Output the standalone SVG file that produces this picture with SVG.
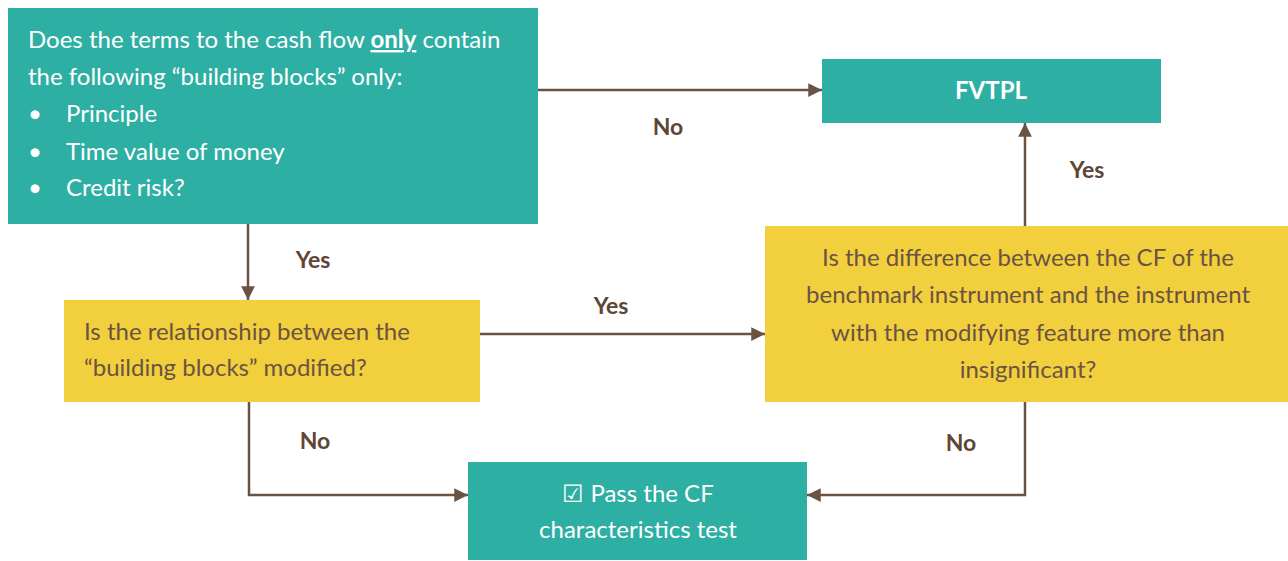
<svg xmlns="http://www.w3.org/2000/svg" width="1288" height="561" viewBox="0 0 1288 561">
<defs>
<style>
.teal{fill:#2eafa4}
.yel{fill:#f2cf3c}
.wt{fill:#ffffff;font-family:Lato,"Open Sans",sans-serif;font-size:24px}
.bt{fill:#6b5344;font-family:Lato,"Open Sans",sans-serif;font-size:24px}
.lbl{fill:#5e4636;font-family:Lato,"Open Sans",sans-serif;font-size:23px;font-weight:bold;text-anchor:middle}
.con{stroke:#6b5344;stroke-width:2.5;fill:none}
</style>
<marker id="ah" viewBox="0 0 10 10" refX="10" refY="5" markerWidth="5.5" markerHeight="5.5" orient="auto" markerUnits="strokeWidth">
<path d="M0,0 L10,5 L0,10 z" fill="#6b5344"/>
</marker>
</defs>
<rect width="1288" height="561" fill="#ffffff"/>
<g id="connectors">
<path class="con" d="M538,90 H822" marker-end="url(#ah)"/>
<path class="con" d="M248,224 V300" marker-end="url(#ah)"/>
<path class="con" d="M480,334 H765" marker-end="url(#ah)"/>
<path class="con" d="M1025,226 V123" marker-end="url(#ah)"/>
<path class="con" d="M249,402 V495 H468" marker-end="url(#ah)"/>
<path class="con" d="M1025,402 V495 H807" marker-end="url(#ah)"/>
<text class="lbl" x="668" y="135">No</text>
<text class="lbl" x="313" y="268">Yes</text>
<text class="lbl" x="611" y="314">Yes</text>
<text class="lbl" x="1087" y="178">Yes</text>
<text class="lbl" x="315" y="449">No</text>
<text class="lbl" x="961" y="451">No</text>
</g>
<g id="q1">
<rect class="teal" x="8" y="8" width="530" height="216"/>
<text class="wt" x="28" y="48">Does the terms to the cash flow <tspan font-weight="bold" text-decoration="underline">only</tspan> contain</text>
<text class="wt" x="28" y="85">the following “building blocks” only:</text>
<text class="wt" x="28" y="122">•</text><text class="wt" x="66" y="122">Principle</text>
<text class="wt" x="28" y="160">•</text><text class="wt" x="66" y="160">Time value of money</text>
<text class="wt" x="28" y="196">•</text><text class="wt" x="66" y="196">Credit risk?</text>
</g>
<g id="fvtpl">
<rect class="teal" x="822" y="59" width="339" height="64"/>
<text class="wt" x="991" y="99" text-anchor="middle" font-weight="bold">FVTPL</text>
</g>
<g id="q2">
<rect class="yel" x="64" y="300" width="416" height="102"/>
<text class="bt" x="84" y="340">Is the relationship between the</text>
<text class="bt" x="84" y="376">“building blocks” modified?</text>
</g>
<g id="q3">
<rect class="yel" x="765" y="226" width="523" height="176"/>
<text class="bt" x="1028" y="266" text-anchor="middle">Is the difference between the CF of the</text>
<text class="bt" x="1028" y="303" text-anchor="middle">benchmark instrument and the instrument</text>
<text class="bt" x="1028" y="341" text-anchor="middle">with the modifying feature more than</text>
<text class="bt" x="1028" y="378" text-anchor="middle">insignificant?</text>
</g>
<g id="pass">
<rect class="teal" x="468" y="462" width="339" height="98"/>
<text class="wt" x="638" y="502" text-anchor="middle">☑ Pass the CF</text>
<text class="wt" x="638" y="538" text-anchor="middle">characteristics test</text>
</g>
</svg>
